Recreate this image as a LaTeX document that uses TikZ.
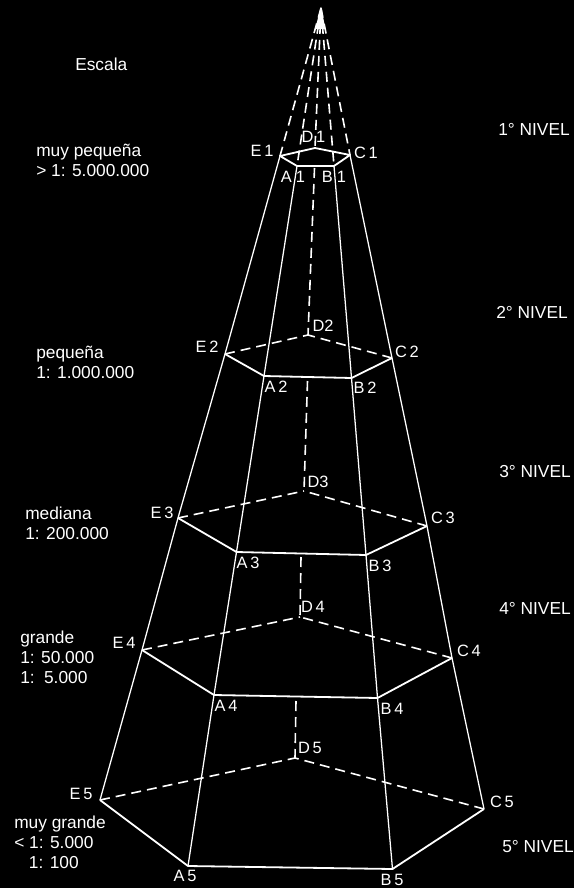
\documentclass[tikz,border=0pt]{standalone}
\usepackage{fontspec}
\setmainfont{Liberation Sans}
\begin{document}
\begin{tikzpicture}[x=0.75pt,y=-0.75pt,
  rail/.style={white,line width=0.95pt,line join=round},
  edge/.style={white,line width=1.35pt,line join=round},
  dashl/.style={white,line width=1.2pt,dash pattern=on 7.5pt off 4.5pt},
  lab/.style={white,font=\fontsize{12.3}{14}\selectfont,inner sep=0pt},
  txt/.style={white,font=\fontsize{13}{15}\selectfont,inner sep=0pt,align=left,anchor=west}]
\fill[black] (0,0) rectangle (574,888);
\useasboundingbox (0,0) rectangle (574,888);
\coordinate (T) at (321,8);
\foreach \n/\x/\y in {A1/297/166,B1/334/166,C1/350/155,D1/315/148,E1/280/156,
 A2/264/376,B2/351.5/378,C2/392/358,D2/308/335,E2/225/354,
 A3/236.5/552,B3/366/555,C3/427/526,D3/304/491,E3/178/518,
 A4/214/695,B4/377.5/698,C4/452/658,D4/300/617,E4/142/650,
 A5/188/866,B5/392.5/869,C5/484/809,D5/295/758,E5/100/800,
 M1/314.5/168,M2/307.5/381,M3/301/557,M4/296/701}
  \coordinate (\n) at (\x,\y);
\fill[white] (321,7) -- (325.5,29) -- (315,29) -- cycle;
\foreach \p in {A,B,C,D,E} \draw[dashl] (T) -- (\p1);
\draw[rail] (E1)--(E2)--(E3)--(E4)--(E5);
\draw[rail] (A1)--(A2)--(A3)--(A4)--(A5);
\draw[rail] (B1)--(B2)--(B3)--(B4)--(B5);
\draw[rail] (C1)--(C2)--(C3)--(C4)--(C5);
\draw[edge] (E1)--(A1)--(B1)--(C1)--(D1)--cycle;
\foreach \i in {2,3,4,5}{
  \draw[edge] (E\i)--(A\i)--(B\i)--(C\i);
  \draw[dashl] (C\i)--(D\i);
  \draw[dashl] (E\i)--(D\i);
}
\draw[dashl] (M1)--(D2);
\draw[dashl] (M2)--(D3);
\draw[dashl] (M3)--(D4);
\draw[dashl] (M4)--(D5);
% point labels
\foreach \n/\x/\y/\t in {
 le1/262/151/E\,1, ld1/313.5/137/D\,1, lc1/366/153/C\,1, la1/293/177/A\hspace{3pt}1, lb1/334/177/B\hspace{3pt}1,
 le2/207/347/E\,2, ld2/323/326/D2, lc2/407/352/C\,2, la2/276/387/A\,2, lb2/365/388/B\,2,
 le3/162/513/E\,3, ld3/318/482/D3, lc3/443/518/C\,3, la3/248/563/A\,3, lb3/380/566/B\,3,
 le4/124/643/E\,4, ld4/313/607/D\,4, lc4/469/651/C\,4, la4/226/706/A\,4, lb4/392/709/B\,4,
 le5/81/794/E\,5, ld5/310/748/D\,5, lc5/502/802/C\,5, la5/185/876/A\,5, lb5/392/880/B\,5}
  \node[lab] (\n) at (\x,\y) {\t};
% level labels
\node[txt] (n1) at (498,129) {1° NIVEL};
\node[txt] (n2) at (496,312) {2° NIVEL};
\node[txt] (n3) at (499,472) {3° NIVEL};
\node[txt] (n4) at (499,608) {4° NIVEL};
\node[txt] (n5) at (502,847) {5° NIVEL};
% scale labels
\node[txt] (s0) at (75,64) {Escala};
\node[txt] (s1) at (36,160) {muy pequeña\\> 1: 5.000.000};
\node[txt] (s2) at (36,362) {pequeña\\1: 1.000.000};
\node[txt] (s3) at (25,523) {mediana\\1: 200.000};
\node[txt] (s4) at (20,657) {grande\\1: 50.000\\1:\hspace{7pt}5.000};
\node[txt] (s5) at (14,842) {muy grande\\< 1: 5.000\\\hspace{11pt}1: 100};
\end{tikzpicture}
\end{document}
